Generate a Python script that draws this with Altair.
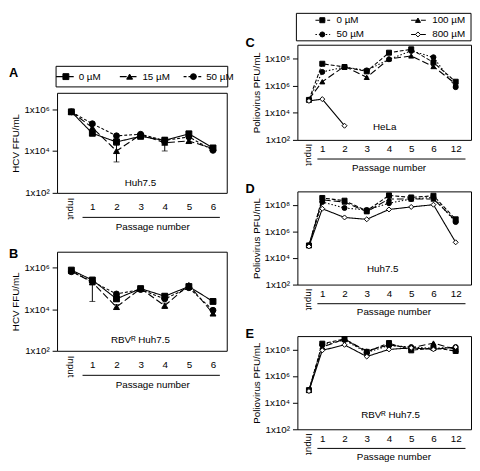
import json
import math
import altair as alt
import pandas as pd

# ---------------- data ----------------
HCV_PASSAGES = ["Input", "1", "2", "3", "4", "5", "6"]
PV_PASSAGES = ["Input", "1", "2", "3", "4", "5", "6", "12"]
HCV_CONCS = ["0 µM", "15 µM", "50 µM"]
PV_CONCS = ["0 µM", "50 µM", "100 µM", "800 µM"]

# A: HCV, Huh7.5 (FFU/mL)
A_0UM = [7.4e5, 7.0e4, 2.7e4, 5.0e4, 3.2e4, 6.6e4, 1.4e4]
A_15UM = [7.4e5, 1.3e5, 1.0e4, 6.0e4, 2.5e4, 3.0e4, 1.3e4]
A_50UM = [7.4e5, 2.0e5, 5.3e4, 6.3e4, 3.2e4, 4.7e4, 1.07e4]
A_0UM_LO = [None, 5.5e4, 1.9e4, 4.0e4, 2.4e4, 5.2e4, 1.1e4]
A_0UM_HI = [None, 9.0e4, 3.8e4, 6.2e4, 4.2e4, 8.4e4, 1.7e4]
A_15UM_LO = [None, None, 3.0e3, None, 1.0e4, None, None]
A_15UM_HI = [None, None, 2.6e4, None, 4.6e4, None, None]

# B: HCV, RBV-resistant Huh7.5 (FFU/mL)
B_0UM = [7.8e5, 2.6e5, 3.2e4, 1.0e5, 4.3e4, 1.26e5, 2.4e4]
B_15UM = [7.0e5, 2.0e5, 1.3e4, 1.0e5, 1.5e4, 1.5e5, 6.3e3]
B_50UM = [6.5e5, 2.2e5, 5.5e4, 9.0e4, 3.2e4, 1.1e5, 9.0e3]
B_0UM_LO = [None, None, 2.4e4, None, 3.2e4, None, 1.9e4]
B_0UM_HI = [None, None, 5.0e4, None, 5.6e4, None, 3.0e4]
B_15UM_LO = [None, 2.4e4, 1.0e4, None, 1.1e4, None, 5.0e3]
B_15UM_HI = [None, 3.2e5, 1.7e4, None, 2.0e4, None, 8.0e3]

# C: Poliovirus, HeLa (PFU/mL)
C_0UM = [8.7e4, 4.0e7, 2.3e7, 1.1e7, 2.6e8, 4.6e8, 5.0e7, 1.9e6]
C_50UM = [8.7e4, 1.0e7, 2.3e7, 1.3e7, 8.5e7, 3.5e8, 1.2e8, 7.6e5]
C_100UM = [1.0e5, 1.9e6, 2.6e7, 4.0e6, 9.0e7, 1.5e8, 2.5e7, 1.3e6]
C_800UM = [7.4e4, 1.0e5, 1.1e3, None, None, None, None, None]

# D: Poliovirus, Huh7.5
D_0UM = [8.7e4, 3.2e8, 2.0e8, 3.5e7, 5.0e8, 3.5e8, 4.7e8, 8.0e6]
D_50UM = [8.7e4, 1.6e8, 5.7e7, 4.0e7, 1.3e8, 2.7e8, 3.5e8, 5.0e6]
D_100UM = [8.7e4, 2.3e8, 1.6e8, 3.0e7, 2.7e8, 2.7e8, 2.7e8, 6.3e6]
D_800UM = [7.4e4, 5.0e7, 1.1e7, 8.0e6, 4.4e7, 6.8e7, 1.0e8, 1.5e5]

# E: Poliovirus, RBV-resistant Huh7.5
E_0UM = [8.7e4, 2.7e8, 6.0e8, 6.5e7, 3.0e8, 8.5e7, 1.3e8, 7.6e7]
E_50UM = [8.7e4, 2.2e8, 5.0e8, 5.8e7, 2.0e8, 1.5e8, 1.2e8, 1.5e8]
E_100UM = [8.7e4, 1.5e8, 6.0e8, 7.6e7, 2.2e8, 1.3e8, 3.0e8, 1.0e8]
E_800UM = [7.4e4, 8.5e7, 2.2e8, 2.9e7, 1.0e8, 1.3e8, 1.0e8, 1.5e8]

HCV_TICKS = [1e2, 1e4, 1e6]
PV_TICKS = [1e2, 1e4, 1e6, 1e8]

# ---------------- styling ----------------
FS = 10
HCV_DASH = [[1, 0], [7, 3], [3, 2]]
HCV_SHAPE = ["square", "triangle-up", "circle"]
HCV_FILL = ["black", "black", "black"]
PV_DASH = [[4, 2], [1.5, 2], [7, 3], [1, 0]]
PV_SHAPE = ["square", "circle", "triangle-up", "diamond"]
PV_FILL = ["black", "black", "black", "white"]

SUP = {"2": "²", "4": "⁴", "6": "⁶", "8": "⁸"}


def make_df(passages, concs, series, lows, highs, input_slot):
    rows = []
    for c, vals, lo, hi in zip(concs, series, lows, highs):
        for i, (p, v) in enumerate(zip(passages, vals)):
            rows.append({
                "conc": c, "passage": p,
                "xs": input_slot if i == 0 else i,
                "val": v,
                "lo": None if lo is None else lo[i],
                "hi": None if hi is None else hi[i],
            })
    df = pd.DataFrame(rows)
    return df[df["val"].notna()].reset_index(drop=True)


def ylabel_expr(ticks):
    parts = []
    for t in ticks:
        e = str(int(round(math.log10(t))))
        parts.append(f"datum.value == {t:g} ? '1x10{SUP[e]}'")
    return " : ".join(parts) + " : ''"


def panel(df, passages, concs, dashes, shapes, fills, msize, ydom, yticks, ytitle,
          cell, cell_xy, letter, letter_xy, w, h, xdom, lab_pad, in_dy,
          ul_dy, ul_off, tt_dy, tt_dx, legend=None):
    one = pd.DataFrame({"k": [0]})
    xs = alt.Scale(domain=xdom, nice=False, zero=False)
    ys = alt.Scale(type="log", domain=ydom, nice=False)
    xaxis = alt.Axis(values=list(range(1, len(passages))),
                     labelExpr=f"{json.dumps(passages)}[datum.value]",
                     ticks=False, tickSize=0, domain=False, grid=False, title=None,
                     labelFontSize=FS, labelPadding=lab_pad, labelColor="black")
    yaxis = alt.Axis(values=yticks, labelExpr=ylabel_expr(yticks), title=ytitle,
                     grid=False, domain=False, tickSize=5, tickColor="black",
                     labelPadding=3, titlePadding=3, labelFontSize=FS, titleFontSize=FS,
                     titleFontWeight="normal", labelColor="black", titleColor="black")

    def X(field):
        return alt.X(field, scale=xs, axis=xaxis)

    def Y(field):
        return alt.Y(field, scale=ys, axis=yaxis)

    sd = alt.StrokeDash("conc:N", scale=alt.Scale(domain=concs, range=dashes), legend=None)
    sh = alt.Shape("conc:N", scale=alt.Scale(domain=concs, range=shapes), legend=None)
    fl = alt.Fill("conc:N", scale=alt.Scale(domain=concs, range=fills), legend=None)

    layers = []
    layers.append(alt.Chart(df).mark_line(color="black", strokeWidth=1.1).encode(
        x=X("xs:Q"), y=Y("val:Q"), strokeDash=sd))
    err = df[df["lo"].notna()]
    if len(err):
        layers.append(alt.Chart(err).mark_rule(color="black", strokeWidth=1).encode(
            x=X("xs:Q"), y=Y("lo:Q"), y2="hi:Q"))
        layers.append(alt.Chart(err).transform_fold(["lo", "hi"], as_=["end", "v"]).mark_tick(
            orient="horizontal", size=6, thickness=1, color="black").encode(
            x=X("xs:Q"), y=Y("v:Q")))
    layers.append(alt.Chart(df).mark_point(filled=True, opacity=1, stroke="black",
                                           strokeWidth=1, size=msize).encode(
        x=X("xs:Q"), y=Y("val:Q"), shape=sh, fill=fl))

    inp = df[df["passage"] == "Input"].head(1)
    layers.append(alt.Chart(inp).mark_text(angle=90, align="left", baseline="middle",
                                           fontSize=FS, color="black").encode(
        x=X("xs:Q"), y=alt.value(h + in_dy), text="passage:N"))

    pas = df[df["passage"] != "Input"]
    layers.append(alt.Chart(pas).transform_aggregate(x0="min(xs)", x1="max(xs)").mark_rule(
        color="black", strokeWidth=1, xOffset=ul_off[0], x2Offset=ul_off[1]).encode(
        x=X("x0:Q"), x2="x1:Q", y=alt.value(h + ul_dy)))
    layers.append(alt.Chart(pas).transform_aggregate(m="mean(xs)").mark_text(
        fontSize=FS, dx=tt_dx, baseline="middle", color="black").encode(
        x=X("m:Q"), y=alt.value(h + tt_dy), text=alt.value("Passage number")))

    layers.append(alt.Chart(one).mark_text(fontSize=FS, baseline="middle", color="black").encode(
        x=alt.value(cell_xy[0]), y=alt.value(cell_xy[1]), text=alt.value(cell)))
    layers.append(alt.Chart(one).mark_text(fontSize=13, fontWeight="bold", align="left",
                                           baseline="middle", color="black").encode(
        x=alt.value(letter_xy[0]), y=alt.value(letter_xy[1]), text=alt.value(letter)))

    main = alt.layer(*layers)
    if legend is None:
        return main.properties(width=w, height=h)

    leg = pd.DataFrame({"conc": concs, "col": legend["cols"], "row": legend["rows"]})
    lx = alt.X("col:Q", scale=alt.Scale(domain=legend["xdom"], nice=False, zero=False), axis=None)
    box = legend["box"]
    llayers = [alt.Chart(one).mark_rect(fillOpacity=0, stroke="black", strokeWidth=1).encode(
        x=alt.value(box[0]), x2=alt.value(box[1]), y=alt.value(box[2]), y2=alt.value(box[3]))]
    for r, yv in enumerate(legend["row_y"]):
        sub = leg[leg["row"] == r]
        llayers.append(alt.Chart(sub).mark_rule(
            color="black", strokeWidth=1.1, xOffset=legend["line"][0],
            x2Offset=legend["line"][1]).encode(x=lx, x2="col:Q", y=alt.value(yv), strokeDash=sd))
        llayers.append(alt.Chart(sub).mark_point(filled=True, opacity=1, stroke="black",
                                                 strokeWidth=1, size=msize).encode(
            x=lx, y=alt.value(yv), shape=sh, fill=fl))
        llayers.append(alt.Chart(sub).mark_text(align="left", baseline="middle", fontSize=FS,
                                                dx=legend["tdx"], color="black").encode(
            x=lx, y=alt.value(yv), text="conc:N"))
    return alt.layer(main, alt.layer(*llayers)).resolve_scale(x="independent").properties(
        width=w, height=h)


# ---------------- panels ----------------
HCV_XDOM = [-0.463, 6.57]
PV_XDOM = [-0.12, 7.69]

dfA = make_df(HCV_PASSAGES, HCV_CONCS, [A_0UM, A_15UM, A_50UM],
              [A_0UM_LO, A_15UM_LO, None], [A_0UM_HI, A_15UM_HI, None], 0.13)
dfB = make_df(HCV_PASSAGES, HCV_CONCS, [B_0UM, B_15UM, B_50UM],
              [B_0UM_LO, B_15UM_LO, None], [B_0UM_HI, B_15UM_HI, None], 0.13)
dfC = make_df(PV_PASSAGES, PV_CONCS, [C_0UM, C_50UM, C_100UM, C_800UM],
              [None] * 4, [None] * 4, 0.4)
dfD = make_df(PV_PASSAGES, PV_CONCS, [D_0UM, D_50UM, D_100UM, D_800UM],
              [None] * 4, [None] * 4, 0.4)
dfE = make_df(PV_PASSAGES, PV_CONCS, [E_0UM, E_50UM, E_100UM, E_800UM],
              [None] * 4, [None] * 4, 0.4)

hcv_common = dict(passages=HCV_PASSAGES, concs=HCV_CONCS, dashes=HCV_DASH, shapes=HCV_SHAPE,
                  fills=HCV_FILL, msize=36, ydom=[1e2, 6e6], yticks=HCV_TICKS,
                  ytitle="HCV FFU/mL", w=173, xdom=HCV_XDOM, lab_pad=9, in_dy=5,
                  ul_dy=25, ul_off=(-10, 7), tt_dy=35, tt_dx=0)
pv_common = dict(passages=PV_PASSAGES, concs=PV_CONCS, dashes=PV_DASH, shapes=PV_SHAPE,
                 fills=PV_FILL, msize=26, ydom=[1e2, 1e9], yticks=PV_TICKS,
                 ytitle="Poliovirus PFU/mL", w=177, xdom=PV_XDOM, lab_pad=4, in_dy=4,
                 ul_dy=19.5, ul_off=(-5, 10), tt_dy=28.5, tt_dx=5)

legA = dict(cols=[0, 1, 2], rows=[0, 0, 0], row_y=[-16.5], xdom=[-0.1384, 2.523],
            box=[-1, 174, -27, -6], line=(-10, 8), tdx=13)
legC = dict(cols=[0, 0, 1, 1], rows=[0, 1, 0, 1], row_y=[-25, -10.5], xdom=[-0.2605, 1.5546],
            box=[-1, 177, -32, -4], line=(-7, 8), tdx=14.5)

pA = panel(dfA, cell="Huh7.5", cell_xy=(85, 92), letter="A", letter_xy=(-49, -20), h=102,
           legend=legA, **hcv_common)
pB = panel(dfB, cell="RBVᴿ Huh7.5", cell_xy=(85, 90), letter="B", letter_xy=(-49, 2), h=101,
           **hcv_common)
pC = panel(dfC, cell="HeLa", cell_xy=(89, 84), letter="C", letter_xy=(-53, -2), h=97,
           legend=legC, **pv_common)
pD = panel(dfD, cell="Huh7.5", cell_xy=(87, 79), letter="D", letter_xy=(-53, -2), h=95,
           **pv_common)
pE = panel(dfE, cell="RBVᴿ Huh7.5", cell_xy=(95, 80), letter="E", letter_xy=(-53, -2), h=95,
           **pv_common)

# empty top cell of the left column: lines panel A up below the level of panel C
top_gap = alt.Chart(pd.DataFrame({"k": [0]})).mark_point(opacity=0).encode(
    x=alt.value(2), y=alt.value(3)).properties(
    width=1, height=5, view=alt.ViewBackground(stroke="transparent"))

left = alt.vconcat(top_gap, pA, pB, spacing=14)
right = alt.vconcat(pC, pD, pE, spacing=9.5)

chart = alt.hconcat(left, right, spacing=10).resolve_scale(
    shape="independent", fill="independent", strokeDash="independent"
).properties(padding=0).configure(font="Liberation Sans").configure_view(
    stroke="black", strokeWidth=1)

chart.save("out.html", embed_options={"renderer": "svg", "actions": False})
